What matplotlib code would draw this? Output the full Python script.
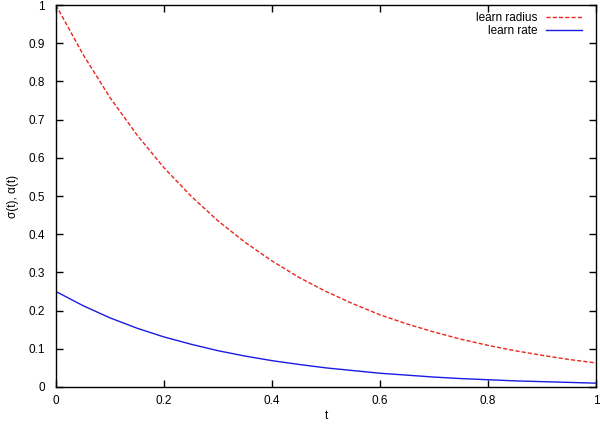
import matplotlib
matplotlib.use("Agg")
import matplotlib.pyplot as plt

# values
t = [0.0, 0.05, 0.1, 0.15, 0.2, 0.25, 0.3, 0.35, 0.4, 0.45, 0.5,
     0.55, 0.6, 0.65, 0.7, 0.75, 0.8, 0.85, 0.9, 0.95, 1.0]
learn_radius = [1.0, 0.871, 0.758, 0.660, 0.574, 0.5, 0.435, 0.379, 0.330, 0.287, 0.25,
                0.218, 0.189, 0.165, 0.144, 0.125, 0.109, 0.095, 0.083, 0.072, 0.063]
learn_rate = [0.25, 0.213, 0.181, 0.154, 0.131, 0.112, 0.095, 0.081, 0.069, 0.059, 0.05,
              0.043, 0.036, 0.031, 0.026, 0.022, 0.019, 0.016, 0.014, 0.012, 0.010]
xticks = [0, 0.2, 0.4, 0.6, 0.8, 1]
xticklabels = ["0", "0.2", "0.4", "0.6", "0.8", "1"]
yticks = [0, 0.1, 0.2, 0.3, 0.4, 0.5, 0.6, 0.7, 0.8, 0.9, 1]
yticklabels = ["0", "0.1", "0.2", "0.3", "0.4", "0.5", "0.6", "0.7", "0.8", "0.9", "1"]

plt.rcParams['font.family'] = ['Liberation Sans', 'DejaVu Sans']
plt.rcParams['font.size'] = 8.5

fig = plt.figure(figsize=(6, 4.24), dpi=100)
ax = fig.add_axes([0.0933, 0.0873, 0.9, 0.9007])

ax.plot(t, learn_radius, color='#e8261c', lw=1, dashes=(3, 1.5), label='learn radius')
ax.plot(t, learn_rate, color='#1a1ae0', lw=1, label='learn rate')

ax.set_xlim(0, 1)
ax.set_ylim(0, 1)
ax.set_xticks(xticks)
ax.set_xticklabels(xticklabels)
ax.set_yticks(yticks)
ax.set_yticklabels(yticklabels)
ax.tick_params(axis='x', direction='in', top=True, length=5, width=1, pad=6)
ax.tick_params(axis='y', direction='in', right=True, length=5, width=1, pad=8)
for s in ax.spines.values():
    s.set_linewidth(1)

ax.set_xlabel("t", labelpad=2)
ax.set_ylabel("σ(t), α(t)", labelpad=7)

ax.legend(loc='upper right', bbox_to_anchor=(0.987, 1.0), frameon=False,
          markerfirst=False, handlelength=3.0, handletextpad=0.8,
          borderaxespad=0.2, labelspacing=0.1, fontsize=8.5)

fig.savefig("out.png", dpi=100)
